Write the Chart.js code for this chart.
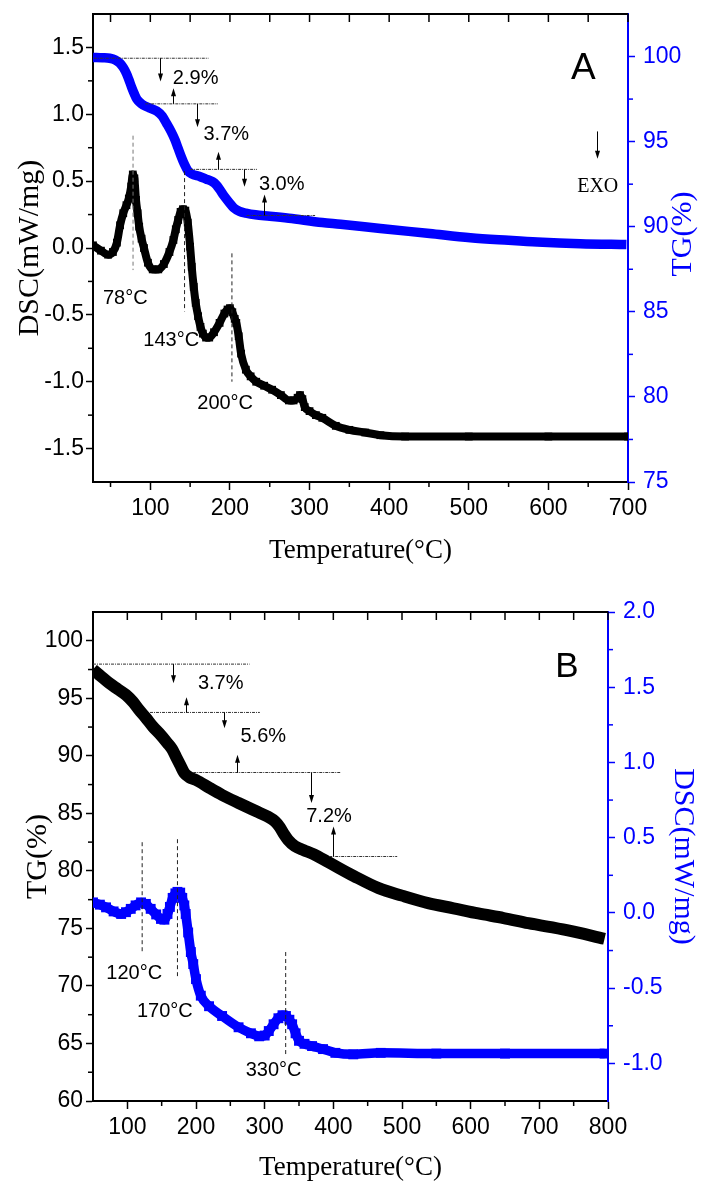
<!DOCTYPE html>
<html>
<head>
<meta charset="utf-8">
<title>DSC / TG</title>
<script src="https://cdn.jsdelivr.net/npm/chart.js@4.4.1/dist/chart.umd.min.js"></script>
<style>
  body { margin: 0; background: #fff; }
  .panel { position: absolute; left: 0; }
</style>
</head>
<body>
<canvas id="chartA" class="panel" style="top:0" width="701" height="590"></canvas>
<canvas id="chartB" class="panel" style="top:590px" width="701" height="598"></canvas>
<script>
const BLUE = "#0000ff";
const SANS = "'Liberation Sans', Arial, sans-serif";
const NARROW = "'Liberation Sans Narrow', 'Arial Narrow', " + SANS;
const SERIF = "'Liberation Serif', 'Times New Roman', serif";

// Panel A: DSC (black, left axis) and TG (blue, right axis)

const tempA_dsc = [28, 38, 47, 53, 58, 62, 66, 70, 73, 76, 78, 80, 82, 84, 86, 89, 92, 97, 103, 110,
  117, 124, 129, 132, 135, 138, 141, 144, 147, 150, 152, 154.5, 157, 160, 163, 166, 170, 174, 180, 187,
  193, 197, 200, 203, 206, 208, 211, 214, 220, 226, 233, 243, 253, 264, 274, 280, 285, 288, 291, 294,
  300, 308, 316, 333, 350, 370, 389, 420, 500, 600, 700];
const dscA = [0.02, -0.02, -0.05, -0.03, 0.04, 0.17, 0.26, 0.32, 0.37, 0.46, 0.55, 0.52, 0.36, 0.26, 0.16, 0.07, 0.0, -0.11, -0.16, -0.16,
  -0.12, -0.03, 0.06, 0.14, 0.21, 0.27, 0.29, 0.28, 0.19, 0.01, -0.14, -0.29, -0.41, -0.51, -0.59, -0.64, -0.67, -0.67, -0.63, -0.56,
  -0.49, -0.46, -0.45, -0.48, -0.53, -0.56, -0.66, -0.79, -0.91, -0.96, -1.0, -1.03, -1.06, -1.10, -1.14, -1.14, -1.12, -1.10, -1.13, -1.19,
  -1.22, -1.25, -1.27, -1.33, -1.36, -1.38, -1.40, -1.41, -1.41, -1.41, -1.41];

const tempA_tg = [28, 40, 49, 56, 62, 66, 70, 73, 76.5, 80, 83, 87, 91, 98, 108, 115, 120, 126, 131, 135,
  139, 143, 147, 152, 162, 170, 178, 183, 187, 192, 199.5, 205, 212, 220, 232, 250, 274, 316, 339, 389,
  451, 502, 550, 586, 640, 698];
const tgA = [99.95, 99.93, 99.9, 99.8, 99.6, 99.35, 99.0, 98.65, 98.2, 97.8, 97.5, 97.3, 97.15, 97.0, 96.8, 96.5, 96.1, 95.6, 95.1, 94.6,
  94.1, 93.65, 93.3, 93.1, 92.95, 92.8, 92.65, 92.45, 92.2, 91.85, 91.4, 91.1, 90.9, 90.8, 90.7, 90.62, 90.5, 90.25, 90.15, 89.9,
  89.6, 89.35, 89.2, 89.1, 89.0, 88.95];

const xTicksA = [100, 200, 300, 400, 500, 600, 700];
const xMinorA = [50, 150, 250, 350, 450, 550, 650];
const dscTicksA = [-1.5, -1.0, -0.5, 0, 0.5, 1.0, 1.5];
const dscMinorA = [-1.25, -0.75, -0.25, 0.25, 0.75, 1.25];
const tgTicksA = [75, 80, 85, 90, 95, 100];
const tgMinorA = [77.5, 82.5, 87.5, 92.5, 97.5];

// peak markers (DSC units)
const peakTempA = [78.3, 143, 202.5];
const peakTopA = [0.84, 0.575, -0.04];
const peakBottomA = [-0.165, -0.475, -1.0];
const peakTextA = ["78°C", "143°C", "200°C"];
const peakTextXA = [68.6, 126.3, 194];
const peakTextYA = [-0.375, -0.693, -1.166];

// weight-loss steps (TG units)
const stepLevelA = [99.9, 97.22, 93.37, 90.66];
const stepStartA = [29, 93.7, 150, 221];
const stepEndA = [173, 185, 234, 307];
const arrowTempA = [111.7, 129, 158.6, 185, 218, 243, 661];
const arrowFromA = [99.9, 97.22, 97.22, 93.37, 93.37, 90.66, 95.6];
const arrowToA = [98.53, 98.14, 95.85, 94.41, 92.35, 91.9, 94.0];
const lossTextA = ["2.9%", "3.7%", "3.0%"];
const lossXA = [156.9, 195.4, 265];
const lossYA = [98.69, 95.43, 92.51];

// Panel B: TG (black, left axis) and DSC (blue, right axis)

const tempB_tg = [50, 60, 74, 86, 98, 108, 117, 127, 137, 148, 158.5, 165, 171, 177, 183, 190, 200, 220, 238, 262,
  287, 305, 315, 322, 328, 334, 344, 357, 371, 393, 430, 466, 500, 538, 575, 611, 648, 684, 740, 795];
const tgB = [97.5, 97.0, 96.3, 95.8, 95.3, 94.7, 94.0, 93.3, 92.55, 91.85, 91.1, 90.6, 89.9, 89.2, 88.5, 88.15, 87.9, 87.2, 86.6, 85.9,
  85.2, 84.7, 84.3, 83.8, 83.2, 82.7, 82.15, 81.8, 81.45, 80.75, 79.55, 78.5, 77.85, 77.2, 76.75, 76.3, 75.9, 75.45, 74.85, 74.1];

const tempB_dsc = [50, 60, 69, 80, 91, 98, 105, 112, 120, 127, 134, 142, 149, 154, 158.5, 162, 166, 170, 173, 177,
  180, 183, 185, 188.6, 192.5, 196, 200, 207, 219, 238, 262, 280, 292, 300, 306, 313, 320, 326, 331, 336,
  340, 345, 350, 358, 369, 385, 403, 429, 469, 550, 650, 795];
const dscB = [0.07, 0.055, 0.037, 0.01, -0.007, 0.005, 0.027, 0.05, 0.07, 0.06, 0.027, -0.01, -0.04, -0.045, -0.007, 0.04, 0.10, 0.13, 0.14, 0.135,
  0.10, 0.05, -0.007, -0.13, -0.26, -0.34, -0.44, -0.55, -0.62, -0.685, -0.76, -0.80, -0.82, -0.815, -0.785, -0.74, -0.70, -0.68, -0.685, -0.71,
  -0.74, -0.80, -0.85, -0.87, -0.885, -0.905, -0.93, -0.94, -0.93, -0.935, -0.935, -0.935];

const xTicksB = [100, 200, 300, 400, 500, 600, 700, 800];
const xMinorB = [150, 250, 350, 450, 550, 650, 750];
const tgTicksB = [60, 65, 70, 75, 80, 85, 90, 95, 100];
const tgMinorB = [62.5, 67.5, 72.5, 77.5, 82.5, 87.5, 92.5, 97.5];
const dscTicksB = [-1.0, -0.5, 0, 0.5, 1.0, 1.5, 2.0];
const dscMinorB = [-0.75, -0.25, 0.25, 0.75, 1.25, 1.75];

const peakTempB = [121.6, 173, 330.6];
const peakTopB = [0.47, 0.49, -0.26];
const peakBottomB = [-0.256, -0.42, -0.94];
const peakTextB = ["120°C", "170°C", "330°C"];
const peakTextXB = [110, 154.7, 313];
const peakTextYB = [-0.40, -0.656, -1.05];

const stepLevelB = [97.97, 93.77, 88.55, 81.25];
const stepStartB = [50, 133, 196, 394];
const stepEndB = [278, 293, 410, 493];
const arrowTempB = [166, 186, 241, 259, 367, 399];
const arrowFromB = [97.97, 93.77, 93.77, 88.55, 88.55, 81.25];
const arrowToB = [96.3, 95.1, 92.4, 90.1, 85.9, 83.85];
const lossTextB = ["3.7%", "5.6%", "7.2%"];
const lossXB = [236, 298, 393.7];
const lossYB = [96.26, 91.68, 84.72];

// Helpers

const zip = (xs, ys) => xs.map((x, i) => ({ x, y: ys[i] }));

function curve(xs, ys, axisId, color, width, radius) {
  return {
    data: zip(xs, ys), yAxisID: axisId, showLine: true,
    borderColor: color, backgroundColor: color, borderWidth: width,
    pointStyle: "rect", pointRadius: radius, pointBorderWidth: 0,
    cubicInterpolationMode: "monotone", order: 1
  };
}

function guide(x0, x1, y0, y1, axisId, dash, color) {
  return {
    data: [{ x: x0, y: y0 }, { x: x1, y: y1 }], yAxisID: axisId, showLine: true,
    borderColor: color, borderWidth: 1, borderDash: dash, pointRadius: 0, order: 0
  };
}

function axis(pos, min, max, ticks, color, fmt, tickLen, pad, size, title) {
  const horizontal = pos === "bottom";
  return {
    type: "linear", position: pos, min, max,
    afterBuildTicks: s => { s.ticks = ticks.map(v => ({ value: v })); },
    afterFit: s => {
      if (horizontal) { s.height = size; s.paddingLeft = 0; s.paddingRight = 0; }
      else { s.width = size; s.paddingTop = 0; s.paddingBottom = 0; }
    },
    border: { display: true, color, width: 2 },
    grid: { display: true, drawOnChartArea: false, drawTicks: true, tickLength: tickLen, tickColor: color, tickWidth: 1.5 },
    ticks: { color, padding: pad, font: { family: NARROW, size: 23 }, callback: fmt, maxRotation: 0, autoSkip: false },
    title: title || { display: false }
  };
}

function serifTitle(text, color, size, padding) {
  return { display: true, text, color, font: { family: SERIF, size }, padding };
}

const fmtInt = v => String(v);
const fmtOne = v => v.toFixed(1);

function line(ctx, x0, y0, x1, y1) {
  ctx.beginPath(); ctx.moveTo(x0, y0); ctx.lineTo(x1, y1); ctx.stroke();
}

function drawArrow(ctx, x, y0, y1) {
  const dir = y1 > y0 ? 1 : -1;
  line(ctx, x, y0, x, y1 - dir * 6);
  ctx.beginPath();
  ctx.moveTo(x - 2.5, y1 - dir * 8);
  ctx.lineTo(x + 2.5, y1 - dir * 8);
  ctx.lineTo(x, y1);
  ctx.closePath();
  ctx.fill();
}

// minor ticks, top frame and annotations
function decorations(p) {
  return {
    id: "decorations",
    afterDatasetsDraw(chart) {
      const { ctx, scales } = chart;
      const x = scales.x;
      ctx.save();
      ctx.fillStyle = "#000";
      ctx.strokeStyle = "#000";
      ctx.lineWidth = 1;
      p.arrowX.forEach((t, i) => {
        const sc = scales[p.stepAxis];
        drawArrow(ctx, Math.round(x.getPixelForValue(t)) + 0.5, sc.getPixelForValue(p.arrowFrom[i]), sc.getPixelForValue(p.arrowTo[i]));
      });
      ctx.textAlign = "center";
      ctx.textBaseline = "middle";
      p.texts.forEach(n => {
        ctx.font = n.font;
        ctx.fillText(n.t, x.getPixelForValue(n.x), scales[n.axis].getPixelForValue(n.y));
      });
      ctx.restore();
    },
    afterDraw(chart) {
      const { ctx, chartArea: a, scales } = chart;
      ctx.save();
      ctx.strokeStyle = "#000";
      ctx.lineWidth = 2;
      line(ctx, a.left - 1, a.top, a.right, a.top);
      ctx.lineWidth = 1.5;
      [...p.xTicks, ...p.xMinor].forEach(v => {
        const px = scales.x.getPixelForValue(v);
        line(ctx, px, a.top, px, a.top + 8);
      });
      p.xMinor.forEach(v => {
        const px = scales.x.getPixelForValue(v);
        line(ctx, px, a.bottom, px, a.bottom + 5);
      });
      p.leftMinor.forEach(v => {
        const py = scales[p.leftAxis].getPixelForValue(v);
        line(ctx, a.left - 5, py, a.left, py);
      });
      ctx.strokeStyle = BLUE;
      p.rightMinor.forEach(v => {
        const py = scales[p.rightAxis].getPixelForValue(v);
        line(ctx, a.right, py, a.right + 5, py);
      });
      if (p.rightTitle) {
        ctx.translate(chart.width - 17.5, (a.top + a.bottom) / 2 - 14);
        ctx.rotate(-Math.PI / 2);
        ctx.fillStyle = BLUE;
        ctx.font = `30px ${SERIF}`;
        ctx.textAlign = "center";
        ctx.textBaseline = "middle";
        ctx.fillText(p.rightTitle, 0, 0);
      }
      ctx.restore();
    }
  };
}

const baseOptions = {
  responsive: false,
  animation: false,
  events: [],
  plugins: { legend: { display: false }, tooltip: { enabled: false } }
};

// Chart A

const datasetsA = [
  ...peakTempA.map((t, i) => guide(t, t, peakTopA[i], peakBottomA[i], "yDsc", [4, 3], i === 0 ? "#777" : "#222")),
  ...stepLevelA.map((v, i) => guide(stepStartA[i], stepEndA[i], v, v, "yTg", [3, 1, 1, 1], "#333")),
  curve(tempA_tg, tgA, "yTg", BLUE, 9.5, 0),
  curve(tempA_dsc, dscA, "yDsc", "#000", 8, 5.5)
];

const textsA = [
  ...peakTextA.map((t, i) => ({ t, x: peakTextXA[i], y: peakTextYA[i], axis: "yDsc", font: `20px ${NARROW}` })),
  ...lossTextA.map((t, i) => ({ t, x: lossXA[i], y: lossYA[i], axis: "yTg", font: `20px ${SANS}` })),
  { t: "A", x: 644, y: 99.3, axis: "yTg", font: `37px ${SANS}` },
  { t: "EXO", x: 662, y: 92.35, axis: "yTg", font: `20px ${SERIF}` }
];

new Chart(document.getElementById("chartA"), {
  type: "scatter",
  data: { datasets: datasetsA },
  options: {
    ...baseOptions,
    layout: { padding: { top: 14 } },
    scales: {
      x: axis("bottom", 28, 700, xTicksA, "#000", fmtInt, 8, 5, 108,
        serifTitle("Temperature(°C)", "#000", 27, { top: 0, bottom: 23 })),
      yDsc: axis("left", -1.75, 1.75, dscTicksA, "#000", fmtOne, 7, 2, 93,
        serifTitle("DSC(mW/mg)", "#000", 30, { top: 12, bottom: 0 })),
      yTg: axis("right", 75, 102.5, tgTicksA, BLUE, fmtInt, 7, 8, 73)
    }
  },
  plugins: [decorations({
    stepAxis: "yTg", arrowX: arrowTempA, arrowFrom: arrowFromA, arrowTo: arrowToA, texts: textsA,
    xTicks: xTicksA, xMinor: xMinorA, leftAxis: "yDsc", leftMinor: dscMinorA,
    rightAxis: "yTg", rightMinor: tgMinorA, rightTitle: "TG(%)"
  })]
});

// Chart B

const datasetsB = [
  ...peakTempB.map((t, i) => guide(t, t, peakTopB[i], peakBottomB[i], "yDsc", [4, 3], "#222")),
  ...stepLevelB.map((v, i) => guide(stepStartB[i], stepEndB[i], v, v, "yTg", [3, 1, 1, 1], "#333")),
  curve(tempB_tg, tgB, "yTg", "#000", 12, 0),
  curve(tempB_dsc, dscB, "yDsc", BLUE, 9.5, 7)
];

const textsB = [
  ...peakTextB.map((t, i) => ({ t, x: peakTextXB[i], y: peakTextYB[i], axis: "yDsc", font: `20px ${NARROW}` })),
  ...lossTextB.map((t, i) => ({ t, x: lossXB[i], y: lossYB[i], axis: "yTg", font: `20px ${SANS}` })),
  { t: "B", x: 740, y: 97.71, axis: "yTg", font: `35px ${SANS}` }
];

new Chart(document.getElementById("chartB"), {
  type: "scatter",
  data: { datasets: datasetsB },
  options: {
    ...baseOptions,
    layout: { padding: { top: 22 } },
    scales: {
      x: axis("bottom", 50, 800, xTicksB, "#000", fmtInt, 8, 5, 87,
        serifTitle("Temperature(°C)", "#000", 27, { top: 0, bottom: 4 })),
      yTg: axis("left", 60, 102.5, tgTicksB, "#000", fmtInt, 7, 3, 93,
        serifTitle("TG(%)", "#000", 30, { top: 20, bottom: 0 })),
      yDsc: axis("right", -1.25, 2.0, dscTicksB, BLUE, fmtOne, 7, 8, 93,
        serifTitle("DSC(mW/mg)", BLUE, 30, { top: 0, bottom: 0 }))
    }
  },
  plugins: [decorations({
    stepAxis: "yTg", arrowX: arrowTempB, arrowFrom: arrowFromB, arrowTo: arrowToB, texts: textsB,
    xTicks: xTicksB, xMinor: xMinorB, leftAxis: "yTg", leftMinor: tgMinorB,
    rightAxis: "yDsc", rightMinor: dscMinorB, rightTitle: null
  })]
});
</script>
</body>
</html>
